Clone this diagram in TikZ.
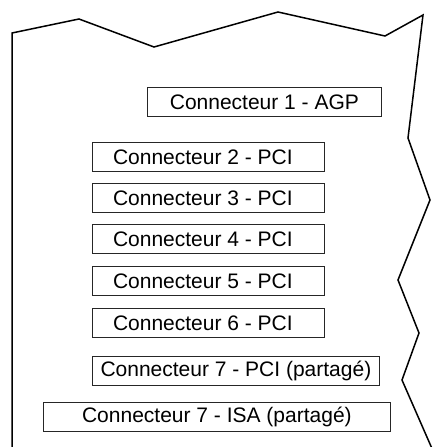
\documentclass[tikz,border=0pt]{standalone}
\usepackage{fontspec}
\setmainfont{Liberation Sans}
\begin{document}
\begin{tikzpicture}[x=1pt,y=-1pt,
  slotbox/.style={draw=black!85, line width=0.8pt, anchor=north west, inner sep=0pt,
    minimum height=29pt, font=\fontsize{21}{24}\selectfont, text=black},
  pcibox/.style={slotbox, minimum width=232pt, execute at begin node=\hspace*{-11pt}},
  outline/.style={draw=black, line width=1.5pt, line join=miter}]
\useasboundingbox (0,0) rectangle (432,447);
\begin{scope}
\clip (0,0) rectangle (432,447);
\draw[outline] (12,460) -- (12,33) -- (79,19) -- (154,47) -- (278,12) -- (385,36) -- (423,15)
  -- (408,138) -- (430,200) -- (398,280) -- (419,333) -- (402,380) -- (437,460);
\end{scope}
\node[slotbox, minimum width=234pt] (c1) at (147,87) {Connecteur 1 - AGP};
\node[pcibox] (c2) at (92,142) {Connecteur 2 - PCI};
\node[pcibox] (c3) at (92,183) {Connecteur 3 - PCI};
\node[pcibox] (c4) at (92,224) {Connecteur 4 - PCI};
\node[pcibox] (c5) at (92,266) {Connecteur 5 - PCI};
\node[pcibox] (c6) at (92,308) {Connecteur 6 - PCI};
\node[slotbox, minimum width=287pt] (c7) at (92,356) {Connecteur 7 - PCI (partagé)};
\node[slotbox, minimum width=347pt] (c8) at (43,402) {Connecteur 7 - ISA (partagé)};
\end{tikzpicture}
\end{document}
